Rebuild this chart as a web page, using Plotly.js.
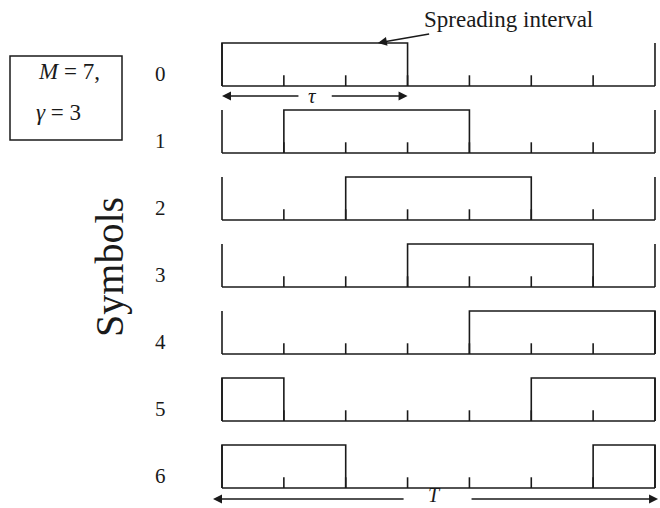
<!DOCTYPE html>
<html><head><meta charset="utf-8">
<script src="https://cdn.plot.ly/plotly-3.0.1.min.js"></script>
<style>html,body{margin:0;padding:0;background:#fff}</style>
</head><body><div id="chart" style="width:660px;height:508px"></div>
<script>
// ---- data ----
const M = 7;                 // number of chips / symbols
const gamma = 3;             // spreading interval length (chips)
const symbols = [0, 1, 2, 3, 4, 5, 6];
const symbolLabels = ['0', '1', '2', '3', '4', '5', '6'];
const intervalStart = [0, 1, 2, 3, 4, 5, 6];  // chip where each symbol's spreading interval begins
const boxLabel = ['<i>M</i> = 7,', '<i>γ</i> = 3'];

// ---- geometry / style ----
const boxH = 0.642, tickH = 0.16;
const ink = '#1a1a1a';
const serif = '"Liberation Serif", "Times New Roman", serif';

const traces = [];
symbols.forEach((r, i) => {
  const xs = [], ys = [];
  const seg = (x0, y0, x1, y1) => { xs.push(x0, x1, null); ys.push(y0, y1, null); };
  seg(0, r, M, r);
  seg(0, r, 0, r - boxH);
  seg(M, r, M, r - boxH);
  for (let k = 1; k < M; k++) seg(k, r, k, r - tickH);
  const s = intervalStart[i], e = s + gamma;
  const parts = e <= M ? [[s, e]] : [[s, M], [0, e - M]];
  parts.forEach(([a, b]) => { xs.push(a, a, b, b, null); ys.push(r, r - boxH, r - boxH, r, null); });
  traces.push({x: xs, y: ys, mode: 'lines', line: {color: ink, width: 1.6},
               hoverinfo: 'skip', showlegend: false});
});

const ann = [];
symbols.forEach((r, i) => {
  ann.push({x: -1.0, y: r - 0.18, xref: 'x', yref: 'y', text: symbolLabels[i], showarrow: false,
            font: {family: serif, size: 21, color: ink}});
});
ann.push({x: -1.81, y: 2.7, xref: 'x', yref: 'y', text: 'Symbols', textangle: -90, showarrow: false,
          font: {family: serif, size: 40, color: ink}});
// spreading interval pointer
ann.push({x: 2.52, y: -boxH, xref: 'x', yref: 'y', text: 'Spreading interval', showarrow: true,
          ax: 131, ay: -23, arrowhead: 2, arrowsize: 1.2, arrowwidth: 1.5, arrowcolor: ink, standoff: 0,
          font: {family: serif, size: 23, color: ink}});
// tau arrows
const tauY = 0.15;
ann.push({x: 1.47, y: tauY, xref: 'x', yref: 'y', text: '<i>τ</i>', showarrow: false,
          font: {family: serif, size: 21, color: ink}});
ann.push({x: 0, y: tauY, ax: 1.26, ay: tauY, xref: 'x', yref: 'y', axref: 'x', ayref: 'y', text: '',
          showarrow: true, arrowhead: 2, arrowsize: 1.2, arrowwidth: 1.5, arrowcolor: ink, standoff: 0});
ann.push({x: gamma, y: tauY, ax: 1.75, ay: tauY, xref: 'x', yref: 'y', axref: 'x', ayref: 'y', text: '',
          showarrow: true, arrowhead: 2, arrowsize: 1.2, arrowwidth: 1.5, arrowcolor: ink, standoff: 0});
// T arrows
const TY = 6.164;
ann.push({x: 3.44, y: 6.10, xref: 'x', yref: 'y', text: '<i>T</i>', showarrow: false,
          font: {family: serif, size: 20, color: ink}});
ann.push({x: -0.145, y: TY, ax: 2.96, ay: TY, xref: 'x', yref: 'y', axref: 'x', ayref: 'y', text: '',
          showarrow: true, arrowhead: 2, arrowsize: 1.2, arrowwidth: 1.5, arrowcolor: ink, standoff: 0});
ann.push({x: 7.05, y: TY, ax: 4.01, ay: TY, xref: 'x', yref: 'y', axref: 'x', ayref: 'y', text: '',
          showarrow: true, arrowhead: 2, arrowsize: 1.2, arrowwidth: 1.5, arrowcolor: ink, standoff: 0});
// parameter box text
ann.push({x: 36 / 660, y: 1 - 72 / 508, xref: 'paper', yref: 'paper', xanchor: 'left', yanchor: 'middle',
          text: boxLabel[0], showarrow: false, font: {family: serif, size: 23, color: ink}});
ann.push({x: 34 / 660, y: 1 - 112 / 508, xref: 'paper', yref: 'paper', xanchor: 'left', yanchor: 'middle',
          text: boxLabel[1], showarrow: false, font: {family: serif, size: 23, color: ink}});

const layout = {
  width: 660, height: 508,
  margin: {l: 0, r: 0, t: 0, b: 0},
  paper_bgcolor: '#fff', plot_bgcolor: '#fff',
  xaxis: {range: [-3.589, 7.081], visible: false, fixedrange: true},
  yaxis: {range: [6.2985, -1.2836], visible: false, fixedrange: true},
  showlegend: false,
  annotations: ann,
  shapes: [{type: 'rect', xref: 'paper', yref: 'paper', x0: 10 / 660, x1: 122 / 660,
            y0: 1 - 140 / 508, y1: 1 - 56 / 508, line: {color: ink, width: 1.5}}]
};
Plotly.newPlot('chart', traces, layout, {staticPlot: true, displayModeBar: false});
</script></body></html>
